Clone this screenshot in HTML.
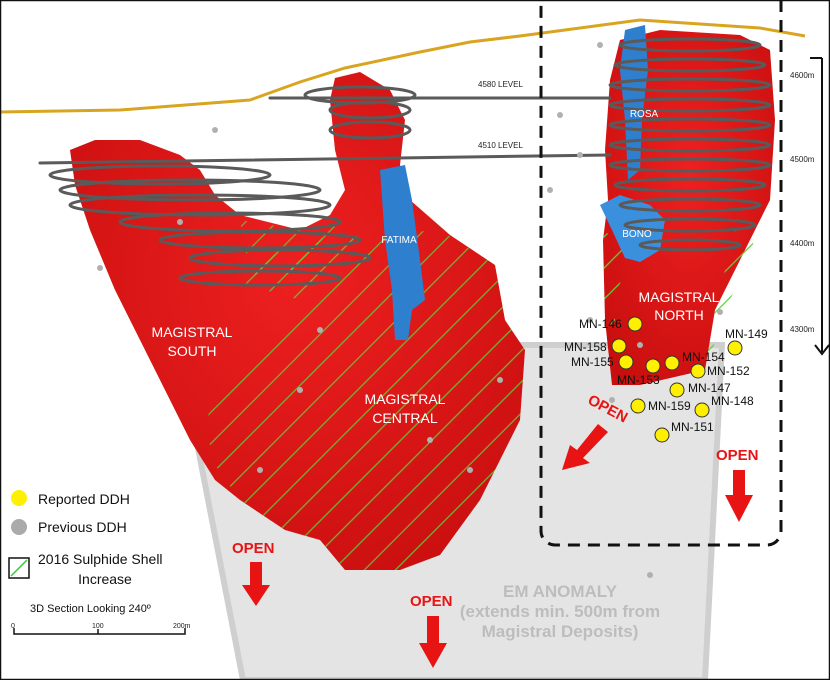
<!DOCTYPE html>
<html><head><meta charset="utf-8"><style>
html,body{margin:0;padding:0;background:#fff}
svg{display:block;font-family:"Liberation Sans",sans-serif}
</style></head><body>
<svg width="830" height="680" viewBox="0 0 830 680" xmlns="http://www.w3.org/2000/svg">
<defs>
<pattern id="h" width="22" height="22" patternUnits="userSpaceOnUse" patternTransform="rotate(45)">
<rect width="22" height="22" fill="none"/><line x1="0" y1="0" x2="0" y2="22" stroke="#5fd13a" stroke-width="2.5"/>
</pattern>
<radialGradient id="rg" cx="0.5" cy="0.4" r="0.7"><stop offset="0" stop-color="#ee2020"/><stop offset="1" stop-color="#c80e0e"/></radialGradient>
</defs>
<rect width="830" height="680" fill="#fff"/>
<polygon points="178,345 722,345 705,680 243,680" fill="#e4e4e4" stroke="#cfcfcf" stroke-width="6"/>
<polyline points="0,112 120,110 250,100 300,82 345,68 420,52 470,42 520,36 580,28 640,20 700,24 760,28 805,36" fill="none" stroke="#d9a520" stroke-width="3"/>
<path d="M70,150 L95,140 L140,140 L180,155 L200,170 L215,195 L240,215 L300,230 L330,215 L345,190 L335,150 L330,100 L335,78 L360,72 L390,90 L405,120 L400,165 L410,200 L450,235 L495,265 L505,320 L525,350 L520,420 L480,500 L440,555 L400,570 L345,570 L320,540 L285,530 L240,500 L215,480 L190,440 L165,390 L140,340 L115,290 L90,230 L75,185 Z" fill="url(#rg)"/>
<path d="M230,280 L300,240 L440,230 L495,265 L505,320 L525,350 L520,420 L480,500 L440,555 L400,570 L345,570 L320,540 L285,530 L240,500 L215,465 L205,425 L220,380 L260,360 L300,300 Z" fill="url(#h)" opacity="0.85"/>
<path d="M240,220 L300,230 L330,215 L340,240 L300,270 L250,275 Z" fill="url(#h)" opacity="0.8"/>
<path d="M610,80 L620,40 L660,30 L740,35 L770,50 L775,120 L770,200 L750,240 L735,270 L715,310 L705,370 L640,385 L612,385 L605,320 L603,240 L608,200 L605,150 Z" fill="url(#rg)"/>
<path d="M603,230 L630,250 L615,300 L615,330 L605,320 Z M735,230 L755,245 L730,300 L705,370 L715,310 Z" fill="url(#h)"/>
<path d="M625,30 L645,25 L648,70 L642,120 L640,170 L628,180 L625,120 L620,70 Z" fill="#2f7fcf"/>
<path d="M600,205 L620,195 L650,205 L665,220 L660,250 L640,262 L625,258 L612,230 Z" fill="#3a90dd"/>
<path d="M380,170 L405,165 L412,200 L420,260 L425,300 L412,310 L408,340 L395,340 L392,290 L385,240 Z" fill="#2f7fcf"/>
<g fill="none" stroke="#5a5a5a" stroke-width="3" stroke-linecap="round">
<line x1="270" y1="98" x2="610" y2="98"/><line x1="40" y1="163" x2="610" y2="155"/>
<ellipse cx="160" cy="175" rx="110" ry="9"/><ellipse cx="190" cy="190" rx="130" ry="10"/><ellipse cx="200" cy="205" rx="130" ry="10"/><ellipse cx="230" cy="222" rx="110" ry="9"/><ellipse cx="260" cy="240" rx="100" ry="8"/><ellipse cx="280" cy="258" rx="90" ry="8"/><ellipse cx="260" cy="278" rx="80" ry="7"/>
<ellipse cx="370" cy="110" rx="40" ry="8"/><ellipse cx="370" cy="130" rx="40" ry="8"/><ellipse cx="360" cy="95" rx="55" ry="8"/>
<ellipse cx="690" cy="45" rx="70" ry="6"/><ellipse cx="690" cy="65" rx="75" ry="6"/><ellipse cx="690" cy="85" rx="80" ry="6"/><ellipse cx="690" cy="105" rx="80" ry="6"/><ellipse cx="690" cy="125" rx="80" ry="6"/><ellipse cx="690" cy="145" rx="80" ry="6"/><ellipse cx="690" cy="165" rx="80" ry="6"/><ellipse cx="690" cy="185" rx="75" ry="6"/><ellipse cx="690" cy="205" rx="70" ry="6"/><ellipse cx="690" cy="225" rx="65" ry="6"/><ellipse cx="690" cy="245" rx="50" ry="5"/>
</g>
<g fill="#b0b0b0">
<circle cx="100" cy="268" r="3"/><circle cx="180" cy="222" r="3"/><circle cx="215" cy="130" r="3"/><circle cx="320" cy="330" r="3"/><circle cx="430" cy="440" r="3"/><circle cx="470" cy="470" r="3"/><circle cx="300" cy="390" r="3"/><circle cx="500" cy="380" r="3"/><circle cx="260" cy="470" r="3"/><circle cx="590" cy="320" r="3"/><circle cx="612" cy="400" r="3"/><circle cx="640" cy="345" r="3"/><circle cx="720" cy="312" r="3"/><circle cx="600" cy="45" r="3"/><circle cx="560" cy="115" r="3"/><circle cx="580" cy="155" r="3"/><circle cx="650" cy="575" r="3"/><circle cx="550" cy="190" r="3"/>
</g>
<g font-size="8" fill="#222"><text x="478" y="87">4580 LEVEL</text><text x="478" y="148">4510 LEVEL</text></g>
<g fill="#fff" font-size="14" text-anchor="middle">
<text x="192" y="337">MAGISTRAL</text><text x="192" y="356">SOUTH</text>
<text x="405" y="404">MAGISTRAL</text><text x="405" y="423">CENTRAL</text>
<text x="679" y="302">MAGISTRAL</text><text x="679" y="320">NORTH</text>
<text x="399" y="243" font-size="10">FATIMA</text><text x="644" y="117" font-size="10">ROSA</text><text x="637" y="237" font-size="10">BONO</text>
</g>
<g fill="#ffef00" stroke="#333" stroke-width="1">
<circle cx="635" cy="324" r="7"/><circle cx="619" cy="346" r="7"/><circle cx="626" cy="362" r="7"/><circle cx="653" cy="366" r="7"/><circle cx="672" cy="363" r="7"/><circle cx="698" cy="371" r="7"/><circle cx="735" cy="348" r="7"/><circle cx="677" cy="390" r="7"/><circle cx="638" cy="406" r="7"/><circle cx="702" cy="410" r="7"/><circle cx="662" cy="435" r="7"/>
</g>
<g font-size="12" fill="#111">
<text x="579" y="328">MN-146</text><text x="564" y="351">MN-158</text><text x="571" y="366">MN-155</text><text x="617" y="384">MN-153</text><text x="682" y="361">MN-154</text><text x="707" y="375">MN-152</text><text x="725" y="338">MN-149</text><text x="688" y="392">MN-147</text><text x="648" y="410">MN-159</text><text x="711" y="405">MN-148</text><text x="671" y="431">MN-151</text>
</g>
<g fill="#e81414" font-weight="bold" font-size="15">
<text x="585" y="410" transform="rotate(28 600 410)">OPEN</text>
<polygon points="598,424 608,432 583,458 590,463 562,470 570,445 577,450"/>
<text x="716" y="460">OPEN</text><polygon points="733,470 745,470 745,495 753,495 739,522 725,495 733,495"/>
<text x="232" y="553">OPEN</text><polygon points="250,562 262,562 262,585 270,585 256,606 242,585 250,585"/>
<text x="410" y="606">OPEN</text><polygon points="427,616 439,616 439,643 447,643 433,668 419,643 427,643"/>
</g>
<g fill="#bdbdbd" font-weight="bold" font-size="17" text-anchor="middle"><text x="560" y="597">EM ANOMALY</text><text x="560" y="617">(extends min. 500m from</text><text x="560" y="637">Magistral Deposits)</text></g>
<rect x="541" y="-20" width="240" height="565" rx="14" fill="none" stroke="#111" stroke-width="3" stroke-dasharray="12,8"/>
<g stroke="#111" stroke-width="2" fill="none"><line x1="822" y1="58" x2="822" y2="352"/><polyline points="815,345 822,354 829,345"/><line x1="810" y1="58" x2="822" y2="58"/></g>
<g font-size="8" fill="#222"><text x="790" y="78">4600m</text><text x="790" y="162">4500m</text><text x="790" y="246">4400m</text><text x="790" y="332">4300m</text></g>
<circle cx="19" cy="498" r="8" fill="#ffef00"/><text x="38" y="504" font-size="14" fill="#111">Reported DDH</text>
<circle cx="19" cy="527" r="8" fill="#aaa"/><text x="38" y="532" font-size="14" fill="#111">Previous DDH</text>
<rect x="9" y="558" width="20" height="20" fill="#fff" stroke="#111" stroke-width="1.5"/><line x1="11" y1="576" x2="27" y2="560" stroke="#3c3" stroke-width="1.5"/>
<text x="38" y="564" font-size="14" fill="#111">2016 Sulphide Shell</text><text x="105" y="584" font-size="14" fill="#111" text-anchor="middle">Increase</text>
<text x="30" y="612" font-size="11" fill="#111">3D Section Looking 240º</text>
<g stroke="#111" stroke-width="1.5" fill="none"><polyline points="14,628 14,634 185,634 185,628"/><line x1="98" y1="629" x2="98" y2="634"/></g>
<g font-size="7" fill="#222"><text x="11" y="628">0</text><text x="92" y="628">100</text><text x="173" y="628">200m</text></g>
<rect x="0.5" y="0.5" width="829" height="679" fill="none" stroke="#111" stroke-width="1.5"/>
</svg>
</body></html>
